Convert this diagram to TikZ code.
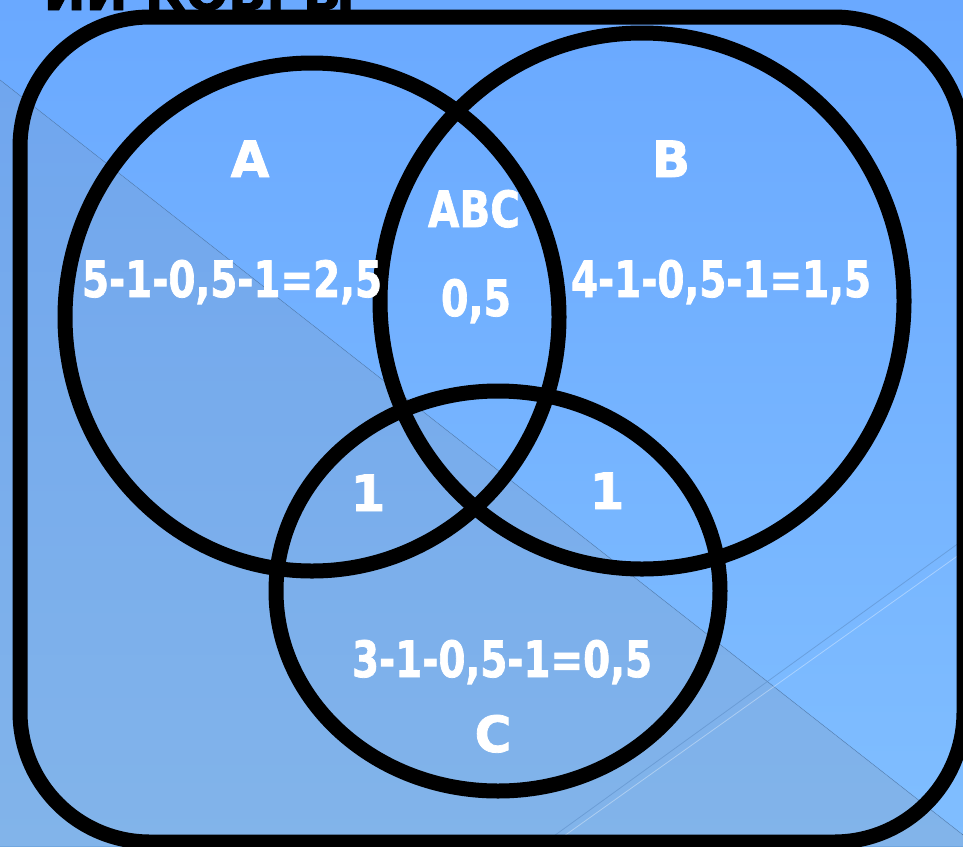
\documentclass[tikz,border=0pt]{standalone}
\usepackage{fontspec}
\setsansfont{DejaVu Sans}
\newfontfamily\heavyfont{DejaVu Sans Bold}[FakeBold=1.6]
\usetikzlibrary{shapes.geometric}
\definecolor{bgTop}{HTML}{6AA9FF}
\definecolor{bgBot}{HTML}{80BEFF}
\definecolor{trTop}{HTML}{70A6EE}
\definecolor{trBot}{HTML}{82B4EA}
\definecolor{sLine}{HTML}{5E8FC8}
\tikzset{
  ring/.style={draw=black, line width=15pt, ellipse, inner sep=0pt},
  lbl/.style={text=white, font=\heavyfont\fontsize{50}{60}\selectfont,
    anchor=base, inner sep=0pt},
  ttl/.style={text=black, font=\heavyfont\fontsize{50}{60}\selectfont,
    anchor=base east, inner sep=0pt},
}
\newcommand{\squeeze}[2]{\resizebox{#1pt}{\height}{#2}}
\begin{document}
\begin{tikzpicture}[x=1pt, y=-1pt]
  \clip (0,0) rectangle (963,846);
  \useasboundingbox (0,0) rectangle (963,846);
  % background
  \fill[top color=bgTop, bottom color=bgBot] (0,0) rectangle (963,846);
  \fill[top color=trTop, bottom color=trBot] (0,80) -- (963,835) -- (963,846) -- (0,846) -- cycle;
  \draw[sLine, opacity=0.5, line width=0.8pt] (0,80) -- (963,835);
  \draw[sLine, opacity=0.6, line width=0.8pt] (540,846) -- (963,540);
  \draw[white, opacity=0.35, line width=0.8pt] (550,846) -- (963,552);
  % title, cut off
  \node[ttl] (title) at (355,10) {ИИ КОВРЫ};
  % frame and sets
  \draw[black, line width=15pt, rounded corners=130pt] (20,17) rectangle (964,842);
  \node[ring, minimum width=494pt, minimum height=508pt] (setA) at (312,317) {};
  \node[ring, minimum width=524pt, minimum height=536pt] (setB) at (642,301) {};
  \node[ring, minimum width=444pt, minimum height=400pt] (setC) at (498,591) {};
  % labels
  \node[lbl] (nameA) at (250,177) {A};
  \node[lbl] (nameB) at (671,177) {B};
  \node[lbl] (nameC) at (493,752) {C};
  \node[lbl] (nameABC) at (474,227) {\squeeze{92}{ABC}};
  \node[lbl] (valA) at (232,297) {\squeeze{300}{5-1-0,5-1=2,5}};
  \node[lbl] (valB) at (721,297) {\squeeze{300}{4-1-0,5-1=1,5}};
  \node[lbl] (valC) at (502,677) {\squeeze{300}{3-1-0,5-1=0,5}};
  \node[lbl] (valABC) at (476,316) {\squeeze{70}{0,5}};
  \node[lbl] (valAC) at (368,511) {1};
  \node[lbl] (valBC) at (607,509) {1};
\end{tikzpicture}
\end{document}
